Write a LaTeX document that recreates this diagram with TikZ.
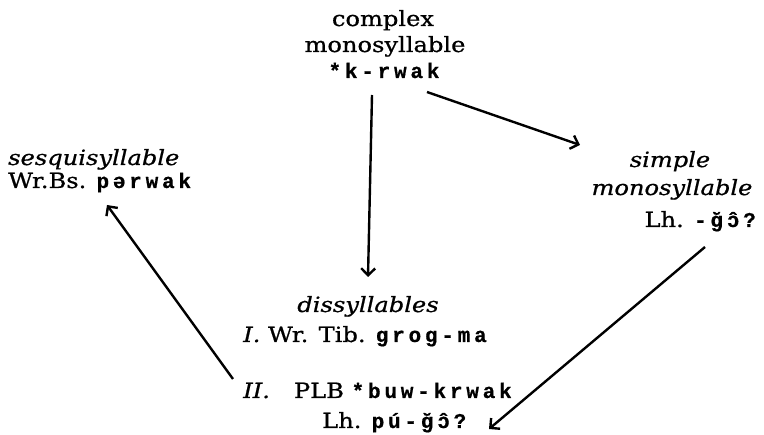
\documentclass[tikz,border=0pt]{standalone}
\usepackage{fontspec}
\setmainfont[FakeStretch=1.15,FakeBold=0.8]{DejaVu Serif}
\newfontfamily\monoW[LetterSpace=18,FakeBold=0.6]{Liberation Mono}
\newcommand\formW[1]{{\fontsize{21}{26}\monoW\bfseries #1}}
\newcommand\ohat{\kern3.8pt\rlap{ɔ}ˆ}
\usetikzlibrary{arrows.meta,calc}
\begin{document}
\begin{tikzpicture}[x=1pt,y=-1pt,
  lbl/.style={inner sep=0pt,font=\fontsize{21}{26}\selectfont},
  arr/.style={line width=2.4pt,-{Straight Barb[length=7pt,width=14pt,line width=2.4pt]}}]
\useasboundingbox[fill=white] (0,0) rectangle (764,435);
\node[lbl,anchor=base] (top1) at (383,26) {complex};
\node[lbl,anchor=base] (top2) at (385,52) {monosyllable};
\node[lbl,anchor=base] (top3) at (384,78) {\formW{*k-rwak}};
\node[lbl,anchor=base west] (l1) at (8,165) {\itshape sesquisyllable};
\node[lbl,anchor=base west] (l2) at (8,188) {Wr.Bs. \formW{pərwak}};
\node[lbl,anchor=base] (r1) at (670,167) {\itshape simple};
\node[lbl,anchor=base] (r2) at (672,195) {\itshape monosyllable};
\node[lbl,anchor=base east] (r3) at (756,227) {Lh. \formW{-ğ\ohat?}};
\node[lbl,anchor=base] (d1) at (368,312) {\itshape dissyllables};
\node[lbl,anchor=base west] (d2) at (243,342) {\textit{I.} Wr. Tib. \formW{grog-ma}};
\node[lbl,anchor=base west] (d3) at (243,398) {\textit{II.}\hspace{24pt}PLB \formW{*buw-krwak}};
\node[lbl,anchor=base west] (d4) at (322,428) {Lh. \formW{pú-ğ\ohat?}};
\draw[arr] ($(top3.base)+(-12,17)$) -- ($(d1.base)+(0,-35)$);
\draw[arr] ($(top3.base)+(43,14)$) -- ($(r1.base)+(-90,-22)$);
\draw[arr] ($(d3.base west)+(-10,-19)$) -- ($(l2.base west)+(99,17)$);
\draw[arr] ($(r3.base east)+(-51,20)$) -- ($(d4.base west)+(167,1)$);
\end{tikzpicture}
\end{document}
